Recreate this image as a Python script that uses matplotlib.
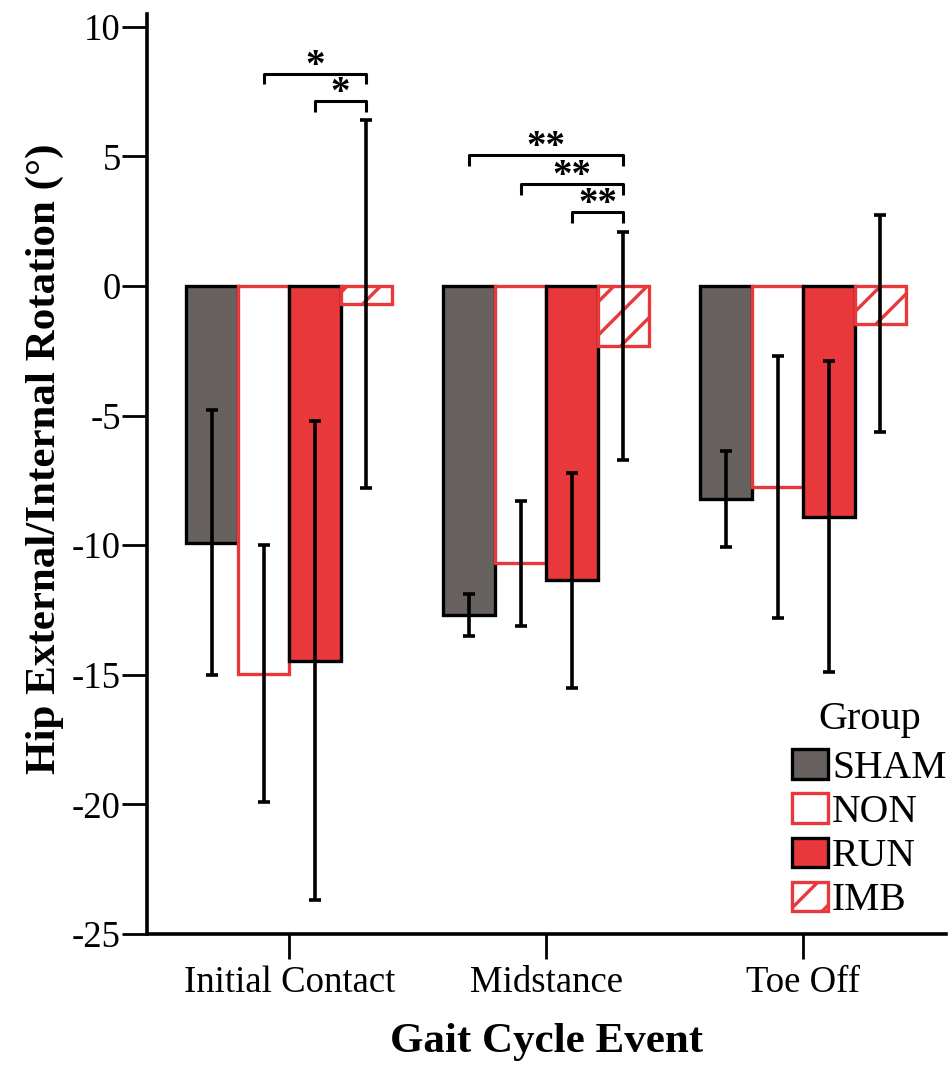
import matplotlib
matplotlib.use("Agg")
import matplotlib.pyplot as plt
import numpy as np
from matplotlib.patches import Patch

plt.rcParams['font.family'] = ['Liberation Serif', 'DejaVu Serif']
plt.rcParams['hatch.linewidth'] = 2.4

# Gait cycle events and groups
events = ["Initial Contact", "Midstance", "Toe Off"]
groups = ["SHAM", "NON", "RUN", "IMB"]

# Mean hip rotation (degrees) per group, ordered by event
sham_mean = [-9.9, -12.7, -8.2]
non_mean = [-14.95, -10.7, -7.75]
run_mean = [-14.45, -11.35, -8.9]
imb_mean = [-0.7, -2.3, -1.45]

# Standard deviations
sham_sd = [5.1, 0.8, 1.85]
non_sd = [4.95, 2.4, 5.05]
run_sd = [9.25, 4.15, 6.0]
imb_sd = [7.1, 4.4, 4.2]

yticks = [10, 5, 0, -5, -10, -15, -20, -25]

# Significance brackets: (event index, group from, group to, label)
sig_pairs = [
    (0, 1, 3, "*"),
    (0, 2, 3, "*"),
    (1, 0, 3, "**"),
    (1, 1, 3, "**"),
    (1, 2, 3, "**"),
]
sig_heights = [8.2, 7.15, 5.05, 3.95, 2.85]

RED = "#E8383B"
GRAY = "#67625F"

styles = [
    dict(facecolor=GRAY, edgecolor="black", hatch=None),
    dict(facecolor="white", edgecolor=RED, hatch=None),
    dict(facecolor=RED, edgecolor="black", hatch=None),
    dict(facecolor="white", edgecolor=RED, hatch="/"),
]

fig = plt.figure(figsize=(9.49, 10.69), dpi=100)
ax = fig.add_axes([0.155, 0.1263, 0.842, 0.8607])

x = np.arange(len(events))
width = 0.2
offsets = [-0.3, -0.1, 0.1, 0.3]
means = [sham_mean, non_mean, run_mean, imb_mean]
sds = [sham_sd, non_sd, run_sd, imb_sd]

for gi in range(4):
    st = styles[gi]
    ax.bar(x + offsets[gi], means[gi], width, color=st["facecolor"],
           edgecolor=st["edgecolor"], hatch=st["hatch"], linewidth=2.4,
           zorder=2)
for gi in range(4):
    ax.errorbar(x + offsets[gi], means[gi], yerr=sds[gi], fmt="none",
                ecolor="black", elinewidth=2.6, capsize=4.5, capthick=2.6,
                zorder=4)

# Significance brackets
drop = 0.42
for (ei, g0, g1, lab), h in zip(sig_pairs, sig_heights):
    x0 = x[ei] + offsets[g0]
    x1 = x[ei] + offsets[g1]
    ax.plot([x0, x0, x1, x1], [h - drop, h, h, h - drop], color="black",
            lw=2.2, zorder=5, solid_capstyle="butt")
    ax.text((x0 + x1) / 2, h - 0.08, lab, ha="center", va="baseline",
            fontsize=28, fontweight="bold", zorder=5)

ax.set_xlim(-0.553, 2.556)
ax.set_ylim(-25, 10.5)
ax.set_yticks(yticks)
ax.set_yticklabels([str(v) for v in yticks])
ax.set_xticks(x)
ax.set_xticklabels(events)

for s in ["top", "right"]:
    ax.spines[s].set_visible(False)
for s in ["left", "bottom"]:
    ax.spines[s].set_linewidth(2.6)
ax.tick_params(axis="both", direction="out", length=18, width=2,
               labelsize=26.5, pad=1)
ax.tick_params(axis="x", pad=5)

ax.set_xlabel("Gait Cycle Event", fontsize=31, fontweight="bold", labelpad=16)
ax.set_ylabel("Hip External/Internal Rotation (\u00b0)", fontsize=31,
              fontweight="bold")
ax.yaxis.set_label_coords(-0.104, 0.517)

handles = [Patch(facecolor=st["facecolor"], edgecolor=st["edgecolor"],
                 hatch=st["hatch"], linewidth=2.4) for st in styles]
leg = ax.legend(handles, groups, title="Group", loc="lower right",
                bbox_to_anchor=(1.035, -0.014), frameon=False, fontsize=28.5,
                title_fontsize=29, handlelength=0.9, handleheight=0.76,
                handletextpad=0.1, labelspacing=0.17, borderpad=0.2)
leg._legend_box.sep = 8

fig.savefig("out.png", dpi=100)
